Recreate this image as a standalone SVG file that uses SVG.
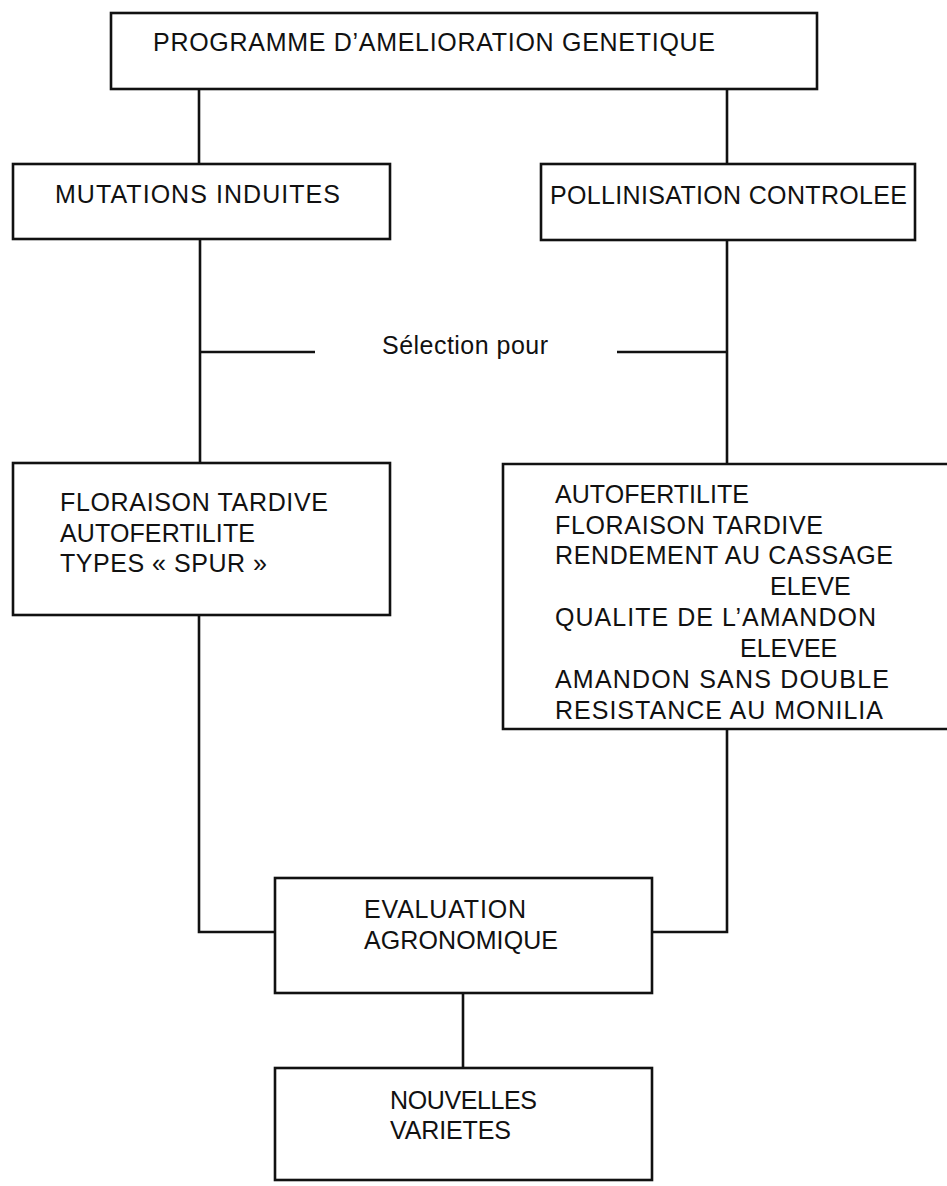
<svg xmlns="http://www.w3.org/2000/svg" width="947" height="1186" viewBox="0 0 947 1186">
<style>
.box{fill:none;stroke:#111;stroke-width:2.6}
.con{fill:none;stroke:#111;stroke-width:2.6}
text{font-family:"Liberation Sans",Arial,sans-serif;font-size:25px;fill:#111}
</style>
<rect width="947" height="1186" fill="#fff"/>
<g id="connectors">
<path class="con" d="M199,89 V164"/>
<path class="con" d="M727,89 V164"/>
<path class="con" d="M200,239 V463"/>
<path class="con" d="M200,352 H315"/>
<path class="con" d="M617,352 H727"/>
<path class="con" d="M727,240 V464"/>
<path class="con" d="M199,615 V932 H275"/>
<path class="con" d="M727,729 V932 H652"/>
<path class="con" d="M463,993 V1068"/>
</g>
<g id="programme">
<rect class="box" x="111" y="13" width="706" height="76"/>
<text x="153" y="51" textLength="562" lengthAdjust="spacing">PROGRAMME D’AMELIORATION GENETIQUE</text>
</g>
<g id="mutations">
<rect class="box" x="13" y="164" width="377" height="75"/>
<text x="55" y="203" textLength="285" lengthAdjust="spacing">MUTATIONS INDUITES</text>
</g>
<g id="pollinisation">
<rect class="box" x="541" y="164" width="374" height="76"/>
<text x="550" y="204" textLength="357" lengthAdjust="spacing">POLLINISATION CONTROLEE</text>
</g>
<g id="selection">
<text x="382" y="354" textLength="166" lengthAdjust="spacing">Sélection pour</text>
</g>
<g id="criteres-mutations">
<rect class="box" x="13" y="463" width="377" height="152"/>
<text x="60" y="511" textLength="268" lengthAdjust="spacing">FLORAISON TARDIVE</text>
<text x="60" y="542" textLength="195" lengthAdjust="spacing">AUTOFERTILITE</text>
<text x="60" y="572" textLength="207" lengthAdjust="spacing">TYPES « SPUR »</text>
</g>
<g id="criteres-pollinisation">
<path class="box" d="M947,464 H503 V729 H947"/>
<text x="555" y="503" textLength="194" lengthAdjust="spacing">AUTOFERTILITE</text>
<text x="555" y="534" textLength="268" lengthAdjust="spacing">FLORAISON TARDIVE</text>
<text x="555" y="564" textLength="338" lengthAdjust="spacing">RENDEMENT AU CASSAGE</text>
<text x="770" y="595">ELEVE</text>
<text x="740" y="657">ELEVEE</text>
<text x="555" y="626" textLength="321" lengthAdjust="spacing">QUALITE DE L’AMANDON</text>
<text x="555" y="688" textLength="334" lengthAdjust="spacing">AMANDON SANS DOUBLE</text>
<text x="555" y="719" textLength="328" lengthAdjust="spacing">RESISTANCE AU MONILIA</text>
</g>
<g id="evaluation">
<rect class="box" x="275" y="878" width="377" height="115"/>
<text x="364" y="918" textLength="162" lengthAdjust="spacing">EVALUATION</text>
<text x="364" y="949" textLength="194" lengthAdjust="spacing">AGRONOMIQUE</text>
</g>
<g id="nouvelles">
<rect class="box" x="275" y="1068" width="377" height="112"/>
<text x="390" y="1109" textLength="147" lengthAdjust="spacing">NOUVELLES</text>
<text x="390" y="1139" textLength="121" lengthAdjust="spacing">VARIETES</text>
</g>
</svg>
